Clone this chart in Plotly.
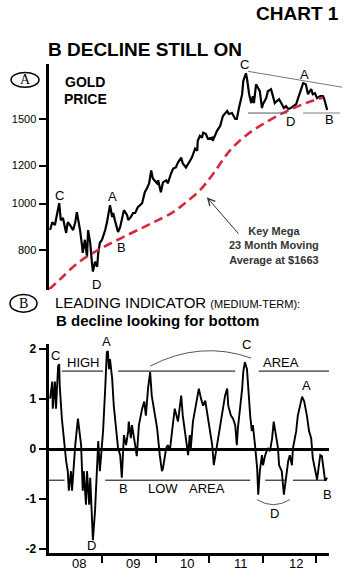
import math
import plotly.graph_objects as go

W, H = 346, 587

# ---------------- data ----------------
gold_t = [2008.03, 2008.07, 2008.12, 2008.16, 2008.20, 2008.23, 2008.27, 2008.33, 2008.36, 2008.40,
          2008.46, 2008.50, 2008.53, 2008.55, 2008.59, 2008.63, 2008.64, 2008.68, 2008.72, 2008.74,
          2008.78, 2008.81, 2008.83, 2008.87, 2008.91, 2008.93, 2008.96, 2009.00, 2009.02, 2009.06,
          2009.09, 2009.11, 2009.15, 2009.19, 2009.21, 2009.24, 2009.28, 2009.30, 2009.34, 2009.37,
          2009.41, 2009.47, 2009.49, 2009.54, 2009.58, 2009.62, 2009.67, 2009.75, 2009.77, 2009.80,
          2009.84, 2009.88, 2009.92, 2009.95, 2010.03, 2010.05, 2010.10, 2010.14, 2010.20, 2010.23,
          2010.29, 2010.33, 2010.38, 2010.42, 2010.48, 2010.51, 2010.57, 2010.61, 2010.68, 2010.74,
          2010.78, 2010.79, 2010.83, 2010.87, 2010.89, 2010.94, 2010.98, 2011.06, 2011.07, 2011.15,
          2011.21, 2011.26, 2011.34, 2011.37, 2011.43, 2011.49, 2011.52, 2011.56, 2011.62, 2011.64,
          2011.69, 2011.71, 2011.75, 2011.79, 2011.82, 2011.84, 2011.88, 2011.92, 2011.95, 2011.99,
          2012.01, 2012.07, 2012.10, 2012.16, 2012.20, 2012.23, 2012.27, 2012.31, 2012.36, 2012.40,
          2012.44, 2012.48, 2012.53, 2012.57, 2012.63, 2012.66, 2012.72, 2012.76, 2012.81, 2012.85,
          2012.91, 2012.94, 2012.98, 2013.02, 2013.08, 2013.13, 2013.15, 2013.19, 2013.21]
gold_p = [881, 915, 903, 946, 1002, 924, 933, 869, 915, 903,
          881, 915, 960, 933, 881, 813, 790, 841, 775, 881,
          829, 757, 722, 757, 739, 790, 829, 841, 853, 881,
          911, 938, 993, 938, 956, 924, 894, 873, 894, 933,
          969, 946, 924, 938, 956, 956, 983, 1002, 1031, 1056,
          1076, 1102, 1172, 1128, 1102, 1118, 1056, 1107, 1118, 1102,
          1155, 1183, 1189, 1217, 1247, 1212, 1189, 1212, 1247, 1301,
          1289, 1351, 1384, 1371, 1404, 1397, 1364, 1371, 1351, 1417,
          1451, 1521, 1558, 1536, 1543, 1500, 1500, 1580, 1689, 1797,
          1866, 1822, 1689, 1618, 1673, 1618, 1771, 1738, 1713, 1580,
          1611, 1657, 1713, 1730, 1657, 1618, 1634, 1649, 1611, 1580,
          1595, 1573, 1580, 1595, 1611, 1649, 1738, 1780, 1771, 1689,
          1730, 1689, 1697, 1657, 1673, 1673, 1657, 1580, 1566]

ma_t = [2008.01, 2008.21, 2008.55, 2008.93, 2009.37, 2009.90, 2010.33, 2010.55,
        2010.83, 2011.07, 2011.39, 2011.71, 2012.08, 2012.46, 2012.81, 2013.13]
ma_p = [663, 695, 753, 801, 849, 907, 960, 1002,
        1066, 1150, 1289, 1391, 1479, 1558, 1618, 1663]

ind_t = [2008.03, 2008.07, 2008.08, 2008.12, 2008.14, 2008.18, 2008.20, 2008.21, 2008.25, 2008.29,
         2008.33, 2008.36, 2008.38, 2008.42, 2008.44, 2008.50, 2008.55, 2008.61, 2008.64, 2008.66,
         2008.70, 2008.72, 2008.76, 2008.78, 2008.81, 2008.83, 2008.87, 2008.91, 2008.93, 2008.96,
         2009.00, 2009.02, 2009.06, 2009.09, 2009.11, 2009.13, 2009.15, 2009.19, 2009.22, 2009.26,
         2009.30, 2009.34, 2009.37, 2009.41, 2009.45, 2009.49, 2009.50, 2009.54, 2009.56, 2009.62,
         2009.65, 2009.69, 2009.75, 2009.79, 2009.82, 2009.86, 2009.90, 2009.93, 2009.99, 2010.03,
         2010.08, 2010.12, 2010.14, 2010.20, 2010.23, 2010.27, 2010.31, 2010.36, 2010.42, 2010.48,
         2010.51, 2010.57, 2010.61, 2010.64, 2010.66, 2010.70, 2010.78, 2010.81, 2010.85, 2010.89,
         2010.93, 2010.98, 2011.02, 2011.06, 2011.09, 2011.15, 2011.17, 2011.22, 2011.26, 2011.30,
         2011.34, 2011.36, 2011.41, 2011.45, 2011.49, 2011.52, 2011.54, 2011.58, 2011.62, 2011.64,
         2011.67, 2011.71, 2011.73, 2011.77, 2011.80, 2011.82, 2011.86, 2011.90, 2011.92, 2011.95,
         2011.99, 2012.01, 2012.05, 2012.10, 2012.14, 2012.18, 2012.21, 2012.25, 2012.29, 2012.31,
         2012.36, 2012.40, 2012.44, 2012.48, 2012.51, 2012.55, 2012.57, 2012.63, 2012.66, 2012.72,
         2012.74, 2012.78, 2012.83, 2012.87, 2012.91, 2012.94, 2012.98, 2013.02, 2013.04, 2013.08,
         2013.11, 2013.13, 2013.17, 2013.21]
ind_v = [1.01, 1.35, 0.81, 1.35, 0.81, 1.66, 1.70, 1.27, 0.61, 0.16,
         -0.24, -0.44, -0.83, -0.44, -0.83, 0.08, 0.61, 0.08, -0.83, -0.44,
         -1.11, -0.44, -1.11, -0.57, -1.43, -1.82, -1.23, -0.44, 0.16, -0.44,
         0.02, 0.36, 1.21, 1.94, 1.96, 1.60, 1.80, 1.41, 0.87, 0.42,
         0.02, -0.12, -0.57, 0.28, 0.08, 0.36, 0.55, 0.22, 0.48, 0.08,
         -0.14, 0.48, 0.81, 0.95, 0.67, 1.21, 1.54, 1.07, 0.67, 0.42,
         -0.12, -0.44, -0.38, 0.02, 0.08, -0.02, 0.36, 0.81, 0.55, 1.07,
         0.67, 0.22, -0.12, 0.28, 0.02, 0.55, 1.07, 1.21, 1.01, 0.87,
         0.97, 0.61, 0.36, 0.08, -0.32, 0.08, 0.22, 0.48, 0.75, 1.07,
         1.21, 0.87, 0.67, 0.61, 0.48, 0.08, 0.42, 0.81, 1.21, 1.54,
         1.74, 1.60, 1.21, 0.67, 0.36, 0.48, 0.08, -0.38, -0.91, -0.44,
         -0.12, -0.32, -0.12, 0.02, -0.04, 0.22, 0.55, 0.28, 0.02, -0.32,
         -0.44, -0.91, -0.57, -0.24, -0.12, -0.32, 0.02, 0.36, 0.67, 0.97,
         1.05, 0.95, 0.67, 0.36, 0.22, -0.18, -0.44, -0.61, -0.44, -0.12,
         -0.14, -0.32, -0.63, -0.57]

gold_ticks = [800, 1000, 1200, 1500]
ind_ticks = [-2, -1, 0, 1, 2]
ind_tick_text = ["-2", "-1", "0", "1", "2"]
year_bounds = [2009, 2010, 2011, 2012, 2013]
year_labels = ["08", "09", "10", "11", "12"]
year_label_x = [2008.57, 2009.58, 2010.59, 2011.60, 2012.63]

# reference lines / channels
top_trend_t = [2011.73, 2013.49]
top_trend_p = [1884, 1746]
top_floor_p = 1543
top_floor_a = [2011.73, 2012.46]
top_floor_b = [2012.76, 2013.45]
high_level = 1.56
high_segments = [(2008.25, 2009.02), (2009.30, 2011.49), (2011.93, 2013.30)]
low_level = -0.62
low_segments = [(2008.00, 2008.30), (2009.06, 2011.77), (2012.05, 2012.42), (2012.57, 2013.20)]

# ---------------- helpers for page placement ----------------
def px(x):
    return x / W

def py(y):
    return 1 - y / H

RED = "#d8283f"
fig = go.Figure()

# top panel: gold price + 23-month MA
fig.add_trace(go.Scatter(x=gold_t, y=gold_p, mode="lines", xaxis="x2", yaxis="y2",
                         line=dict(color="black", width=2.2), hoverinfo="skip"))
fig.add_trace(go.Scatter(x=ma_t, y=ma_p, mode="lines", xaxis="x2", yaxis="y2",
                         line=dict(color=RED, width=2.6, dash="9px,5px", shape="spline", smoothing=1),
                         hoverinfo="skip"))
fig.add_trace(go.Scatter(x=top_trend_t, y=top_trend_p, mode="lines", xaxis="x2", yaxis="y2",
                         line=dict(color="#777777", width=1), hoverinfo="skip"))
fig.add_trace(go.Scatter(x=top_floor_a, y=[top_floor_p] * 2, mode="lines", xaxis="x2", yaxis="y2",
                         line=dict(color="#555555", width=1), hoverinfo="skip"))
fig.add_trace(go.Scatter(x=top_floor_b, y=[top_floor_p] * 2, mode="lines", xaxis="x2", yaxis="y2",
                         line=dict(color="#aaaaaa", width=1.5), hoverinfo="skip"))

# bottom panel: leading indicator
fig.add_trace(go.Scatter(x=ind_t, y=ind_v, mode="lines", xaxis="x", yaxis="y",
                         line=dict(color="black", width=1.9), hoverinfo="skip"))

shapes = []
for a, b in high_segments:
    shapes.append(dict(type="line", xref="x", yref="y", x0=a, x1=b, y0=high_level, y1=high_level,
                       line=dict(color="black", width=1)))
for a, b in low_segments:
    shapes.append(dict(type="line", xref="x", yref="y", x0=a, x1=b, y0=low_level, y1=low_level,
                       line=dict(color="black", width=1)))
shapes.append(dict(type="path", xref="x", yref="y",
                   path="M 2009.90,1.66 Q 2010.84,2.18 2011.79,1.82",
                   line=dict(color="#555555", width=1)))
shapes.append(dict(type="path", xref="x", yref="y",
                   path="M 2011.90,-1.01 Q 2012.20,-1.21 2012.51,-1.01",
                   line=dict(color="#555555", width=1)))
# circled panel markers
shapes.append(dict(type="circle", xref="paper", yref="paper", x0=px(11), x1=px(39), y0=py(86), y1=py(71),
                   line=dict(color="black", width=1.5)))
shapes.append(dict(type="circle", xref="paper", yref="paper", x0=px(10), x1=px(37), y0=py(313), y1=py(295),
                   line=dict(color="black", width=1.5)))

ann = []
def paper_text(x, y, text, size, xanchor="left", color="black", family=None, align="left"):
    d = dict(x=px(x), y=py(y), xref="paper", yref="paper", text=text, showarrow=False,
             xanchor=xanchor, yanchor="middle", align=align, font=dict(size=size, color=color))
    if family:
        d["font"]["family"] = family
    ann.append(d)

paper_text(341, 12, "<b>CHART 1</b>", 19, xanchor="right")
paper_text(46, 48, "<b>B DECLINE STILL ON</b>", 19)
paper_text(85, 81, "<b>GOLD</b>", 14, xanchor="center")
paper_text(85, 98, "<b>PRICE</b>", 14, xanchor="center")
paper_text(25, 78.5, "A", 14, xanchor="center", family="Liberation Serif, serif")
paper_text(23.5, 304, "B", 14, xanchor="center", family="Liberation Serif, serif")
paper_text(53, 303, "LEADING INDICATOR <span style='font-size:11px'>(MEDIUM-TERM):</span>", 15)
paper_text(54, 321, "<b>B decline looking for bottom</b>", 15)
paper_text(274, 246, "<b>Key Mega<br>23 Month Moving<br>Average at $1663</b>", 11,
           xanchor="center", color="#333333", align="center")

# arrow pointing at the moving average
ann.append(dict(x=2010.96, y=math.log10(1031), xref="x2", yref="y2", text="", showarrow=True,
                arrowhead=5, arrowsize=1.4, arrowwidth=1, arrowcolor="#333333", ax=33, ay=38))

# top panel letters (log axis -> log10 positions)
top_labels = [(2008.20, 1041, "C", 0), (2009.19, 1036, "A", 0), (2009.36, 809, "B", 0),
              (2008.89, 679, "D", 0), (2011.67, 1940, "C", 1), (2012.78, 1857, "A", 0),
              (2012.53, 1479, "D", 0), (2013.26, 1493, "B", 0)]
for t, p, s, ys in top_labels:
    ann.append(dict(x=t, y=math.log10(p), xref="x2", yref="y2", text=s, showarrow=False,
                    font=dict(size=13), yshift=ys))

bottom_labels = [(2008.14, 1.88, "C", 0), (2009.09, 2.08, "A", 4), (2011.71, 2.08, "C", 1),
                 (2012.83, 1.27, "A", 0), (2009.41, -0.79, "B", 0), (2008.81, -1.92, "D", 0),
                 (2012.23, -1.29, "D", 0), (2013.21, -0.91, "B", 0),
                 (2008.66, 1.74, "HIGH", 0), (2012.35, 1.74, "AREA", 0),
                 (2010.14, -0.79, "LOW", 0), (2010.96, -0.79, "AREA", 0)]
for t, v, s, ys in bottom_labels:
    ann.append(dict(x=t, y=v, xref="x", yref="y", text=s, showarrow=False,
                    font=dict(size=13), yshift=ys))

for t, s in zip(year_label_x, year_labels):
    ann.append(dict(x=t, y=py(566), xref="x", yref="paper", text=s, showarrow=False,
                    yanchor="middle", font=dict(size=13)))

fig.update_layout(
    width=W, height=H,
    margin=dict(l=0, r=0, t=0, b=0),
    paper_bgcolor="white", plot_bgcolor="white",
    showlegend=False,
    font=dict(family="Liberation Sans, Arial, sans-serif", color="black"),
    xaxis=dict(domain=[px(48.5), px(329)], range=[2008.0, 2013.243], anchor="y",
               showgrid=False, zeroline=False, showline=True, linewidth=3, linecolor="black",
               tickmode="array", tickvals=year_bounds, ticktext=[""] * len(year_bounds),
               ticks="outside", ticklen=7, tickwidth=2, tickcolor="black"),
    yaxis=dict(domain=[py(556), py(345)], range=[-2.08, 2.10], anchor="x",
               showgrid=False, zeroline=True, zerolinecolor="black", zerolinewidth=2.5,
               showline=True, linewidth=3, linecolor="black",
               tickmode="array", tickvals=ind_ticks, ticktext=ind_tick_text,
               ticks="outside", ticklen=7, tickwidth=2, tickcolor="black",
               tickfont=dict(size=12, weight="bold")),
    xaxis2=dict(domain=[px(48.5), 1.0], range=[2008.0, 2013.561], anchor="y2", visible=False),
    yaxis2=dict(domain=[py(290), py(63)], type="log",
                range=[math.log10(662.7), math.log10(1947)], anchor="x2",
                showgrid=False, zeroline=False, showline=True, linewidth=3, linecolor="black",
                tickmode="array", tickvals=gold_ticks, ticktext=[str(v) for v in gold_ticks],
                ticks="outside", ticklen=7, tickwidth=2, tickcolor="black",
                tickfont=dict(size=11)),
    shapes=shapes,
    annotations=ann,
)

fig.write_html("out.html")
